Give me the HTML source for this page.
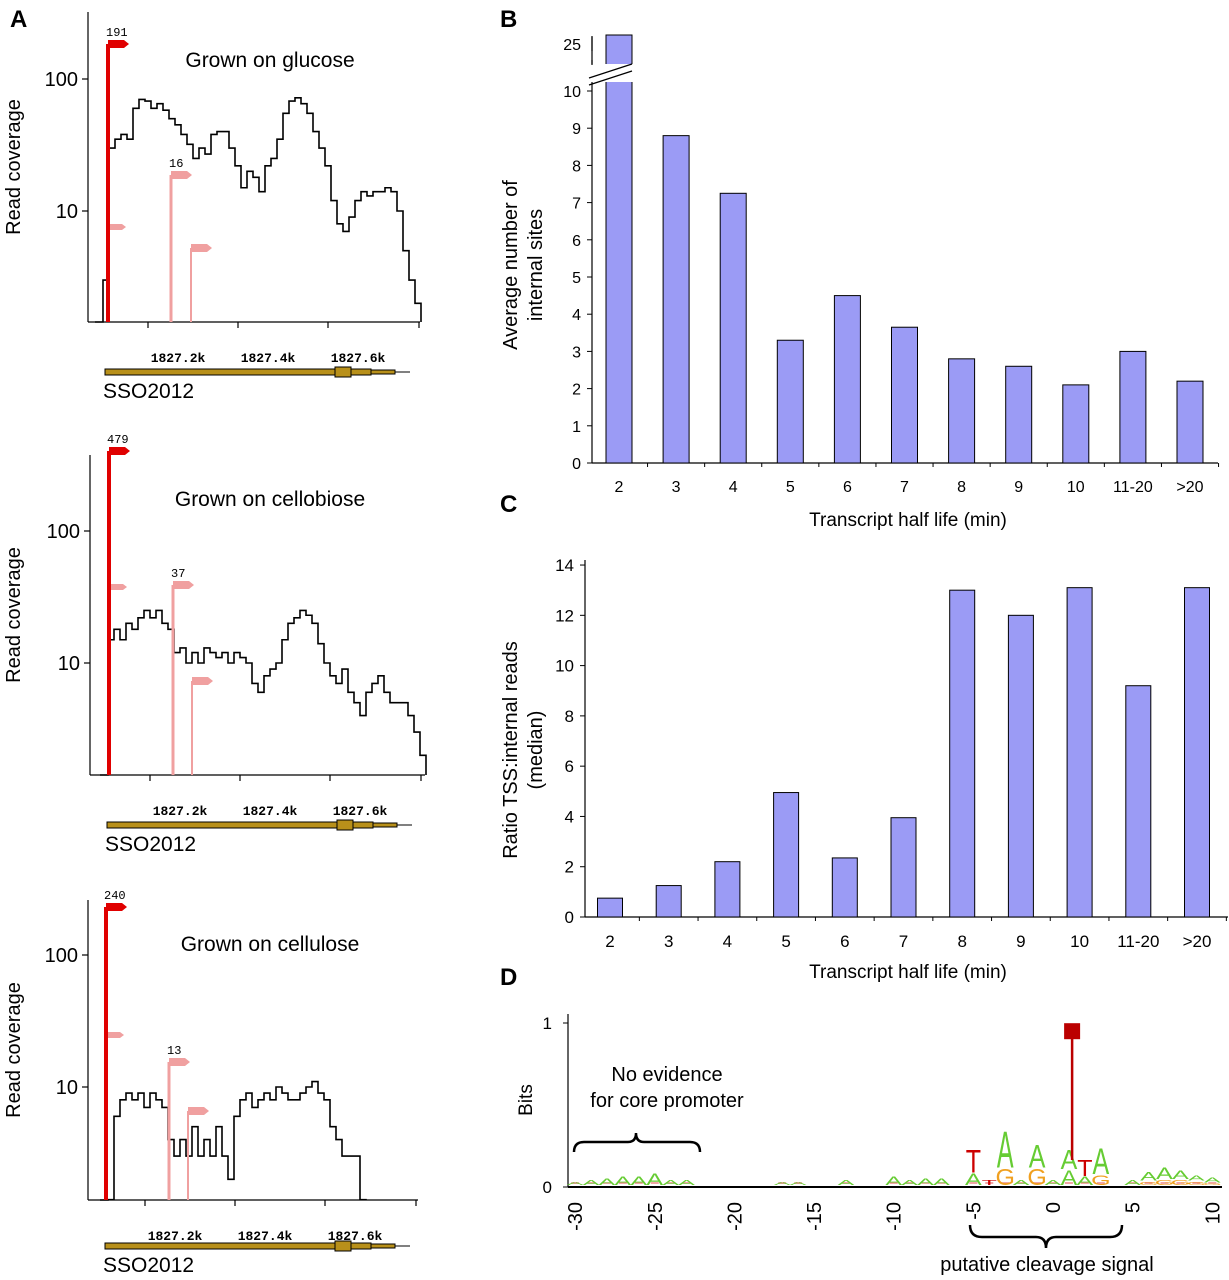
<!DOCTYPE html>
<html><head><meta charset="utf-8"><style>
body{margin:0;background:#fff;}
svg{display:block;font-family:"Liberation Sans",sans-serif;}
</style></head><body>
<svg id="fig" width="1229" height="1280" viewBox="0 0 1229 1280">
<g id="A"></g>
<g id="B"></g>
<g id="C"></g>
<g id="D"></g>
</svg>
<script>
// ---------- Panel A data ----------
const covGlucose=[3,30,35,38,35,60,70,68,60,65,58,50,45,38,32,25,30,27,38,40,40,30,22,15,20,18,14,22,25,35,55,68,72,65,55,40,30,22,12,8,7,9,12,14,13,14,14,15,14,10,5,3,2];
const covCellobiose=[15,18,15,20,18,22,25,22,25,20,18,12,13,10,12,10,13,12,11,12,10,12,11,10,7,6,8,9,10,15,20,22,25,23,20,14,10,8,7,9,6,5,4,6,7,8,6,5,5,5,4,3,2];
const covCellulose=[1.4,6,8,9,8,9,7,9,8,7,4,3,4,3,5,3,4,3,5,3,2,6,8,9,7,8,9,8,10,9,8,8,9,10,11,9,8,5,4,3,3,3,1.4];
const tssLabels=["191","479","240"];
const internalLabels=["16","37","13"];
const genomicTicks=["1827.2k","1827.4k","1827.6k"];
const conditions=["Grown on glucose","Grown on cellobiose","Grown on cellulose"];
// ---------- Panel B data ----------
const catsB=["2","3","4","5","6","7","8","9","10","11-20",">20"];
const valsB=[25,8.8,7.25,3.3,4.5,3.65,2.8,2.6,2.1,3.0,2.2];
const ticksB=[0,1,2,3,4,5,6,7,8,9,10];
// ---------- Panel C data ----------
const catsC=["2","3","4","5","6","7","8","9","10","11-20",">20"];
const valsC=[0.75,1.25,2.2,4.95,2.35,3.95,13.0,12.0,13.1,9.2,13.1];
const ticksC=[0,2,4,6,8,10,12,14];
// ---------- Panel D data ----------
const logoPos=[-30,-29,-28,-27,-26,-25,-24,-23,-17,-16,-13,-10,-9,-8,-7,-5,-4,-3,-2,-1,0,1,2,3,5,6,7,8,9,10];
const logoLetterTop=["A","A","A","A","A","A","A","A","A","A","A","A","A","A","A","T","T","A","A","A","A","A","T","A","A","A","A","A","A","A"];
const logoHeights=[0.02,0.03,0.04,0.05,0.05,0.07,0.03,0.03,0.02,0.02,0.03,0.05,0.03,0.04,0.04,0.14,0.03,0.22,0.03,0.14,0.03,0.12,0.1,0.16,0.03,0.05,0.07,0.05,0.03,0.03];
const logoMid=["","","","","","","","","","","","","","","","A","","G","","G","","A","A","G","","G","G","G","G","G"];
const logoMidH=[0,0,0,0,0,0,0,0,0,0,0,0,0,0,0,0.07,0,0.1,0,0.1,0,0.09,0.05,0.06,0,0.02,0.03,0.03,0.02,0.01];
const stemPos=1.2, stemVal=0.95;
const ticksD=[-30,-25,-20,-15,-10,-5,0,5,10];

const NS="http://www.w3.org/2000/svg";
function mk(parent,tag,attrs,text){const e=document.createElementNS(NS,tag);for(const k in attrs)e.setAttribute(k,attrs[k]);if(text!==undefined)e.textContent=text;parent.appendChild(e);return e;}
const colors={A:"#6c3",C:"#33c",G:"#f0a020",T:"#c00"};

const fig=document.getElementById('fig');
[["A",10,27],["B",500,27],["C",500,512],["D",500,985]].forEach(p=>{
  const t=mk(fig,'text',{x:p[1],y:p[2],'font-size':24,'font-weight':'bold'},p[0]);
  
  
});

// ---------- Panel A ----------
const A=document.getElementById('A');
const plots=[
 {cov:covGlucose,x0:103,step:6,bottom:322,y10:211,top:12,tss:108,tssTop:44,pinkSmall:227,int1:171,int1Top:175,int2:191,int2Top:248,ticks:[148,238,328,419],gene:372,ax:88,axEnd:420},
 {cov:covCellobiose,x0:108,step:6,bottom:775,y10:663,top:455,tss:109,tssTop:451,pinkSmall:587,int1:173,int1Top:585,int2:192,int2Top:681,ticks:[150,240,330,421],gene:825,ax:90,axEnd:425},
 {cov:covCellulose,x0:108,step:6,bottom:1200,y10:1087,top:900,tss:106,tssTop:907,pinkSmall:1035,int1:169,int1Top:1062,int2:188,int2Top:1111,ticks:[145,235,325,416],gene:1246,ax:88,axEnd:418}
];
plots.forEach((p,i)=>{
  const g=mk(A,'g',{});
  
  
  const yS=v=>p.y10-132*Math.log10(v/10);
  mk(g,'line',{x1:p.ax,y1:p.top,x2:p.ax,y2:p.bottom,stroke:'#000','stroke-width':1.2});
  mk(g,'line',{x1:p.ax,y1:p.bottom,x2:p.axEnd,y2:p.bottom,stroke:'#000','stroke-width':1.2});
  [[100,"100"],[10,"10"]].forEach(t=>{
    const y=yS(t[0]);
    mk(g,'line',{x1:p.ax-6,y1:y,x2:p.ax,y2:y,stroke:'#000','stroke-width':1.2});
    const tl=mk(g,'text',{x:p.ax-10,y:y+7,'font-size':20,'text-anchor':'end'},t[1]);
    
    
  });
  p.ticks.forEach((x,j)=>{
    mk(g,'line',{x1:x,y1:p.bottom,x2:x,y2:p.bottom+6,stroke:'#000','stroke-width':1.2});
    if(j<3){
      const gl=mk(g,'text',{x:x+30,y:p.bottom+40,'font-size':13,'font-weight':'bold','font-family':'Liberation Mono, monospace','text-anchor':'middle'},genomicTicks[j]);
      
      
    }
  });
  const yl=mk(g,'text',{transform:`translate(20,${(p.top+p.bottom)/2}) rotate(-90)`,'font-size':20,'text-anchor':'middle'},'Read coverage');
  
  
  const ti=mk(g,'text',{x:270,y:p.top+(i==0?55:51),'font-size':21,'text-anchor':'middle'},conditions[i]);
  
  
  let d=`M${p.x0-8},${p.bottom} L${p.x0},${p.bottom}`;
  p.cov.forEach((v,k)=>{const x=p.x0+k*p.step;const y=Math.min(p.bottom,yS(v));d+=` L${x},${y} L${x+p.step},${y}`;});
  d+=` L${p.x0+p.cov.length*p.step},${p.bottom}`;
  const cl=mk(g,'path',{d:d,fill:'none',stroke:'#000','stroke-width':1.6});
  
  
  const flag=(x,yTop,col,w,label,name)=>{
    const fg=mk(g,'g',{});
    
    
    mk(fg,'line',{x1:x,y1:p.bottom,x2:x,y2:yTop,stroke:col,'stroke-width':w});
    mk(fg,'path',{d:`M${x},${yTop-4} L${x+16},${yTop-4} L${x+21},${yTop} L${x+16},${yTop+4} L${x},${yTop+4}Z`,fill:col});
    if(label) mk(fg,'text',{x:x-2,y:yTop-8,'font-size':12,'font-family':'Liberation Mono, monospace'},label);
  };
  flag(p.tss,p.tssTop,'#e00000',4,tssLabels[i],'primary-tss-marker');
  mk(g,'path',{d:`M${p.tss+2},${p.pinkSmall-3} L${p.tss+14},${p.pinkSmall-3} L${p.tss+18},${p.pinkSmall} L${p.tss+14},${p.pinkSmall+3} L${p.tss+2},${p.pinkSmall+3}Z`,fill:'#f0a0a0'});
  flag(p.int1,p.int1Top,'#f0a0a0',3,internalLabels[i],'internal-site-marker');
  flag(p.int2,p.int2Top,'#f0a0a0',2,null,'internal-site-marker');
  const gg=mk(g,'g',{});
  
  
  const gx=p.ax+17, gy=p.gene;
  mk(gg,'line',{x1:gx,y1:gy,x2:gx+305,y2:gy,stroke:'#000','stroke-width':1});
  mk(gg,'rect',{x:gx,y:gy-3,width:230,height:6,fill:'#b8901a',stroke:'#000','stroke-width':1});
  mk(gg,'rect',{x:gx+230,y:gy-5,width:16,height:10,fill:'#b8901a',stroke:'#000','stroke-width':1});
  mk(gg,'rect',{x:gx+246,y:gy-3,width:20,height:6,fill:'#b8901a',stroke:'#000','stroke-width':1});
  mk(gg,'rect',{x:gx+266,y:gy-2,width:24,height:4,fill:'#b8901a',stroke:'#000','stroke-width':1});
  mk(gg,'text',{x:gx-2,y:gy+26,'font-size':21},'SSO2012');
});

// ---------- Bar chart helper ----------
function barChart(root,cats,vals,ticks,o,name){
  const yS=v=>o.y0-(v-o.vmin)*o.ppu;
  const xS=i=>o.xFirst+i*o.dx;
  mk(root,'line',{x1:o.ax,y1:o.y0,x2:o.axEnd,y2:o.y0,stroke:'#000','stroke-width':1.2});
  mk(root,'line',{x1:o.ax,y1:o.y0,x2:o.ax,y2:o.axTop,stroke:'#000','stroke-width':1.2});
  ticks.forEach(t=>{
    const y=yS(t);
    mk(root,'line',{x1:o.ax-5,y1:y,x2:o.ax,y2:y,stroke:'#000','stroke-width':1});
    const tl=mk(root,'text',{x:o.ax-11,y:y+6,'font-size':o.tfs,'text-anchor':'end'},String(t));
    
    
  });
  cats.forEach((c,i)=>{
    const x=xS(i);
    let v=vals[i];
    if(o.breakAt!==undefined && v>o.breakAt){
      const top=o.breakTopY-(v-o.breakTopV)*2;
      const b=mk(root,'rect',{x:x-o.bw/2,y:yS(o.breakAt)-15,width:o.bw,height:o.y0-yS(o.breakAt)+15,fill:'#9b9bf5',stroke:'#000','stroke-width':1});
      
      
      mk(root,'rect',{x:x-o.bw/2,y:top-9,width:o.bw,height:41,fill:'#9b9bf5',stroke:'#000','stroke-width':1});
      mk(root,'rect',{x:o.ax-3,y:64,width:o.bw+45,height:18,fill:'#fff'});
      mk(root,'line',{x1:o.ax-3,y1:78,x2:o.ax+40,y2:64,stroke:'#000','stroke-width':1.2});
      mk(root,'line',{x1:o.ax-3,y1:85,x2:o.ax+40,y2:71,stroke:'#000','stroke-width':1.2});
      mk(root,'line',{x1:o.ax,y1:37,x2:o.ax,y2:51,stroke:'#000','stroke-width':1.2});
      mk(root,'line',{x1:o.ax,y1:60,x2:o.ax,y2:65,stroke:'#000','stroke-width':1.2});
      mk(root,'text',{x:o.ax-11,y:top+6,'font-size':o.tfs,'text-anchor':'end'},String(v));
    } else {
      const b=mk(root,'rect',{x:x-o.bw/2,y:yS(v),width:o.bw,height:o.y0-yS(v),fill:'#9b9bf5',stroke:'#000','stroke-width':1});
      
      
    }
    mk(root,'line',{x1:x+o.dx/2,y1:o.y0,x2:x+o.dx/2,y2:o.y0+4,stroke:'#000','stroke-width':1});
    const xl=mk(root,'text',{x:x,y:o.y0+o.xlo,'font-size':o.xfs,'text-anchor':'middle'},c);
    
    
  });
  const xt=mk(root,'text',{x:o.xtX,y:o.xtY,'font-size':19,'text-anchor':'middle'},'Transcript half life (min)');
  
  
  const yt=mk(root,'text',{transform:`translate(${o.ytX},${o.ytY}) rotate(-90)`,'font-size':20,'text-anchor':'middle'});
  
  
  mk(yt,'tspan',{x:0,dy:0},o.yt[0]);
  mk(yt,'tspan',{x:0,dy:25},o.yt[1]);
}
barChart(document.getElementById('B'),catsB,valsB,ticksB,{y0:463,vmin:0,ppu:37.2,xFirst:619,dx:57.1,bw:26,ax:592,axEnd:1218,axTop:36,tfs:16,xfs:16,xlo:29,xtX:908,xtY:526,ytX:517,ytY:265,yt:['Average number of','internal sites'],breakAt:10,breakTopY:44,breakTopV:25},'b');
barChart(document.getElementById('C'),catsC,valsC,ticksC,{y0:917,vmin:0,ppu:25.14,xFirst:610,dx:58.7,bw:25,ax:585,axEnd:1228,axTop:560,tfs:17,xfs:17,xlo:30,xtX:908,xtY:978,ytX:517,ytY:750,yt:['Ratio TSS:internal reads','(median)']},'c');

// ---------- Panel D ----------
const D=document.getElementById('D');
const xD=v=>1053+v*15.93;
const yD=v=>1187-v*164;
mk(D,'line',{x1:568,y1:1014,x2:568,y2:1187,stroke:'#000','stroke-width':1.2});
mk(D,'line',{x1:568,y1:1187,x2:1222,y2:1187,stroke:'#000','stroke-width':2});
[[0,'0'],[1,'1']].forEach(t=>{
  mk(D,'line',{x1:563,y1:yD(t[0]),x2:568,y2:yD(t[0]),stroke:'#000'});
  mk(D,'text',{x:552,y:yD(t[0])+6,'font-size':17,'text-anchor':'end'},t[1]);
});
const bl=mk(D,'text',{transform:'translate(532,1100) rotate(-90)','font-size':19,'text-anchor':'middle'},'Bits');


ticksD.forEach(t=>{
  const tl=mk(D,'text',{transform:`translate(${xD(t)+7},1202) rotate(-90)`,'font-size':20,'text-anchor':'end'},String(t));
  
  
});
logoPos.forEach((p,i)=>{
  const x=xD(p);
  const hTop=logoHeights[i]*164, hMid=logoMidH[i]*164;
  let base=1185;
  mk(D,'line',{x1:x-4,y1:1183,x2:x+4,y2:1183,stroke:'#e88','stroke-width':1.5});
  if(logoMid[i]){
    mk(D,'text',{x:0,y:0,'font-size':20,'text-anchor':'middle',fill:colors[logoMid[i]],transform:`translate(${x},${base}) scale(1.25,${hMid/14})`},logoMid[i]);
    base-=hMid+1;
  }
  const lt=mk(D,'text',{x:0,y:0,'font-size':20,'text-anchor':'middle',fill:colors[logoLetterTop[i]],transform:`translate(${x},${base}) scale(1.25,${hTop/14})`},logoLetterTop[i]);
  
  
});
const st=mk(D,'g',{});


mk(st,'line',{x1:xD(stemPos),y1:yD(stemVal),x2:xD(stemPos),y2:1160,stroke:'#b00','stroke-width':2.5});
mk(st,'rect',{x:xD(stemPos)-8,y:yD(stemVal)-8,width:16,height:16,fill:'#b00'});
const a1=mk(D,'text',{x:667,y:1081,'font-size':20,'text-anchor':'middle'},'No evidence');


mk(D,'text',{x:667,y:1107,'font-size':20,'text-anchor':'middle'},'for core promoter');
mk(D,'path',{d:'M574,1152 Q574,1142 584,1142 L628,1142 Q636,1142 636,1133 Q636,1142 644,1142 L690,1142 Q700,1142 700,1152',fill:'none',stroke:'#000','stroke-width':2.5});
mk(D,'path',{d:'M970,1225 Q970,1237 982,1237 L1036,1237 Q1046,1237 1046,1248 Q1046,1237 1056,1237 L1110,1237 Q1122,1237 1122,1225',fill:'none',stroke:'#000','stroke-width':2.5});
const a2=mk(D,'text',{x:1047,y:1271,'font-size':20,'text-anchor':'middle'},'putative cleavage signal');


</script>
</body></html>
